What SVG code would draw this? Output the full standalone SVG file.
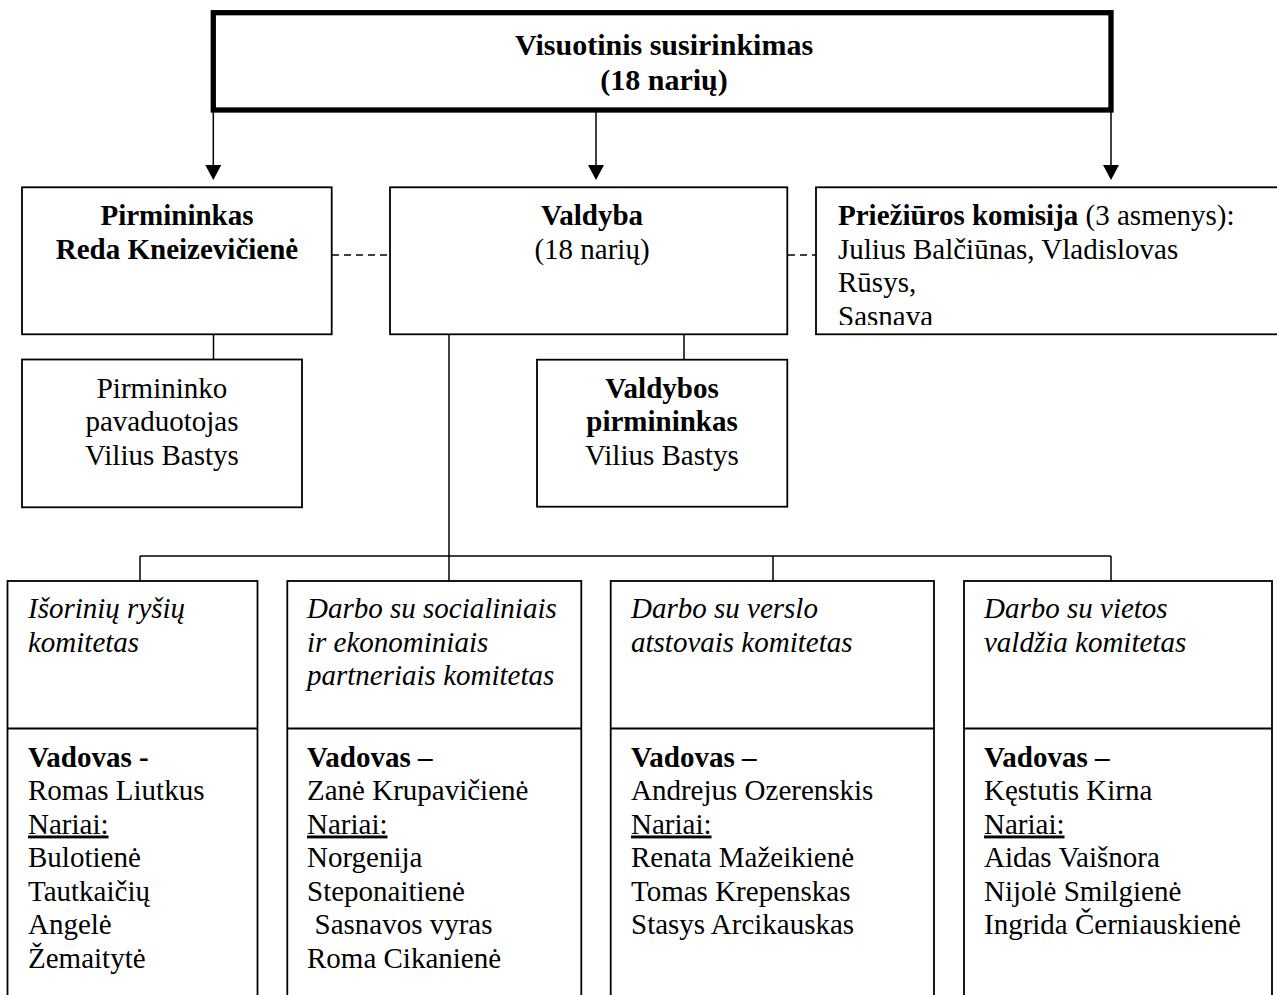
<svg xmlns="http://www.w3.org/2000/svg" width="1277" height="995" viewBox="0 0 1277 995">
<style>
  text { font-family: "Liberation Serif", "Times New Roman", serif; font-size: 29px; fill: #000; }
  .b { font-weight: bold; }
  .i { font-style: italic; }
  .c { text-anchor: middle; }
  .box { fill: #fff; stroke: #000; stroke-width: 1.8; }
  .ln { fill: none; stroke: #000; stroke-width: 1.5; }
  .dash { fill: none; stroke: #000; stroke-width: 1.6; stroke-dasharray: 7 5; }
  .u { text-decoration: underline; }
</style>
<defs>
  <marker id="arr" markerUnits="userSpaceOnUse" markerWidth="15" markerHeight="16" viewBox="0 0 15 16" refX="11" refY="8" orient="auto">
    <path d="M0,0 L15,8 L0,16 z" fill="#000"/>
  </marker>
  <clipPath id="clipP"><rect x="817" y="188" width="470" height="137"/></clipPath>
</defs>
<rect width="1277" height="995" fill="#fff"/>

<g id="connectors">
  <line class="ln" x1="213.3" y1="112" x2="213.3" y2="176" marker-end="url(#arr)"/>
  <line class="ln" x1="596" y1="112" x2="596" y2="176" marker-end="url(#arr)"/>
  <line class="ln" x1="1111" y1="112" x2="1111" y2="176" marker-end="url(#arr)"/>
  <line class="dash" x1="332" y1="255" x2="390" y2="255"/>
  <line class="dash" x1="788" y1="255" x2="816" y2="255"/>
  <line class="ln" x1="213.5" y1="334.3" x2="213.5" y2="359.5"/>
  <line class="ln" x1="684" y1="334.3" x2="684" y2="359.7"/>
  <line class="ln" x1="449" y1="334.3" x2="449" y2="581"/>
  <line class="ln" x1="140" y1="556" x2="1111" y2="556"/>
  <line class="ln" x1="140" y1="556" x2="140" y2="581"/>
  <line class="ln" x1="773" y1="556" x2="773" y2="581"/>
  <line class="ln" x1="1111" y1="556" x2="1111" y2="581"/>
</g>

<g id="visuotinis">
  <rect x="213.3" y="12.7" width="897.7" height="97.3" fill="#fff" stroke="#000" stroke-width="5.3"/>
  <text class="b c" x="664" y="55" style="font-size:30px">Visuotinis susirinkimas</text>
  <text class="b c" x="664" y="89.5" style="font-size:30px">(18 narių)</text>
</g>

<g id="pirmininkas">
  <rect class="box" x="22" y="187.3" width="309.7" height="147"/>
  <text class="b c" x="177" y="225">Pirmininkas</text>
  <text class="b c" x="177" y="259">Reda Kneizevičienė</text>
</g>

<g id="valdyba">
  <rect class="box" x="390" y="187.3" width="397.3" height="147"/>
  <text class="b c" x="592" y="225">Valdyba</text>
  <text class="c" x="592" y="258.5">(18 narių)</text>
</g>

<g id="prieziuros">
  <rect class="box" x="816" y="187.3" width="470" height="147"/>
  <g clip-path="url(#clipP)">
    <text x="838" y="225"><tspan class="b">Priežiūros komisija</tspan> (3 asmenys):</text>
    <text x="838" y="258.5">Julius Balčiūnas, Vladislovas</text>
    <text x="838" y="292">Rūsys,</text>
    <text x="838" y="325.5">Sasnava</text>
  </g>
</g>

<g id="pavaduotojas">
  <rect class="box" x="22" y="359.5" width="280" height="147.8"/>
  <text class="c" x="162" y="397.5">Pirmininko</text>
  <text class="c" x="162" y="431">pavaduotojas</text>
  <text class="c" x="162" y="464.5">Vilius Bastys</text>
</g>

<g id="valdybos-pirmininkas">
  <rect class="box" x="537" y="359.7" width="250.3" height="147"/>
  <text class="b c" x="662" y="397.5">Valdybos</text>
  <text class="b c" x="662" y="431">pirmininkas</text>
  <text class="c" x="662" y="464.5">Vilius Bastys</text>
</g>

<g id="komitetas-isoriniu">
  <rect class="box" x="7.5" y="581" width="250" height="430"/>
  <line class="ln" x1="7.5" y1="728.5" x2="257.5" y2="728.5" style="stroke-width:1.8"/>
  <text class="i" x="28" y="618">Išorinių ryšių</text>
  <text class="i" x="28" y="651.5">komitetas</text>
  <text class="b" x="28" y="766.5">Vadovas -</text>
  <text x="28" y="800">Romas Liutkus</text>
  <text class="u" x="28" y="833.5">Nariai:</text>
  <text x="28" y="867">Bulotienė</text>
  <text x="28" y="900.5">Tautkaičių</text>
  <text x="28" y="934">Angelė</text>
  <text x="28" y="967.5">Žemaitytė</text>
</g>

<g id="komitetas-socialiniais">
  <rect class="box" x="287.3" y="581" width="294" height="430"/>
  <line class="ln" x1="287.3" y1="728.5" x2="581.3" y2="728.5" style="stroke-width:1.8"/>
  <text class="i" x="307" y="618">Darbo su socialiniais</text>
  <text class="i" x="307" y="651.5">ir ekonominiais</text>
  <text class="i" x="307" y="685">partneriais komitetas</text>
  <text class="b" x="307" y="766.5">Vadovas –</text>
  <text x="307" y="800">Zanė Krupavičienė</text>
  <text class="u" x="307" y="833.5">Nariai:</text>
  <text x="307" y="867">Norgenija</text>
  <text x="307" y="900.5">Steponaitienė</text>
  <text x="314.5" y="934">Sasnavos vyras</text>
  <text x="307" y="967.5">Roma Cikanienė</text>
</g>

<g id="komitetas-verslo">
  <rect class="box" x="610.7" y="581" width="323.3" height="430"/>
  <line class="ln" x1="610.7" y1="728.5" x2="934" y2="728.5" style="stroke-width:1.8"/>
  <text class="i" x="631" y="618">Darbo su verslo</text>
  <text class="i" x="631" y="651.5">atstovais komitetas</text>
  <text class="b" x="631" y="766.5">Vadovas –</text>
  <text x="631" y="800">Andrejus Ozerenskis</text>
  <text class="u" x="631" y="833.5">Nariai:</text>
  <text x="631" y="867">Renata Mažeikienė</text>
  <text x="631" y="900.5">Tomas Krepenskas</text>
  <text x="631" y="934">Stasys Arcikauskas</text>
</g>

<g id="komitetas-vietos">
  <rect class="box" x="964" y="581" width="308" height="430"/>
  <line class="ln" x1="964" y1="728.5" x2="1272" y2="728.5" style="stroke-width:1.8"/>
  <text class="i" x="984" y="618">Darbo su vietos</text>
  <text class="i" x="984" y="651.5">valdžia komitetas</text>
  <text class="b" x="984" y="766.5">Vadovas –</text>
  <text x="984" y="800">Kęstutis Kirna</text>
  <text class="u" x="984" y="833.5">Nariai:</text>
  <text x="984" y="867">Aidas Vaišnora</text>
  <text x="984" y="900.5">Nijolė Smilgienė</text>
  <text x="984" y="934">Ingrida Černiauskienė</text>
</g>
</svg>
